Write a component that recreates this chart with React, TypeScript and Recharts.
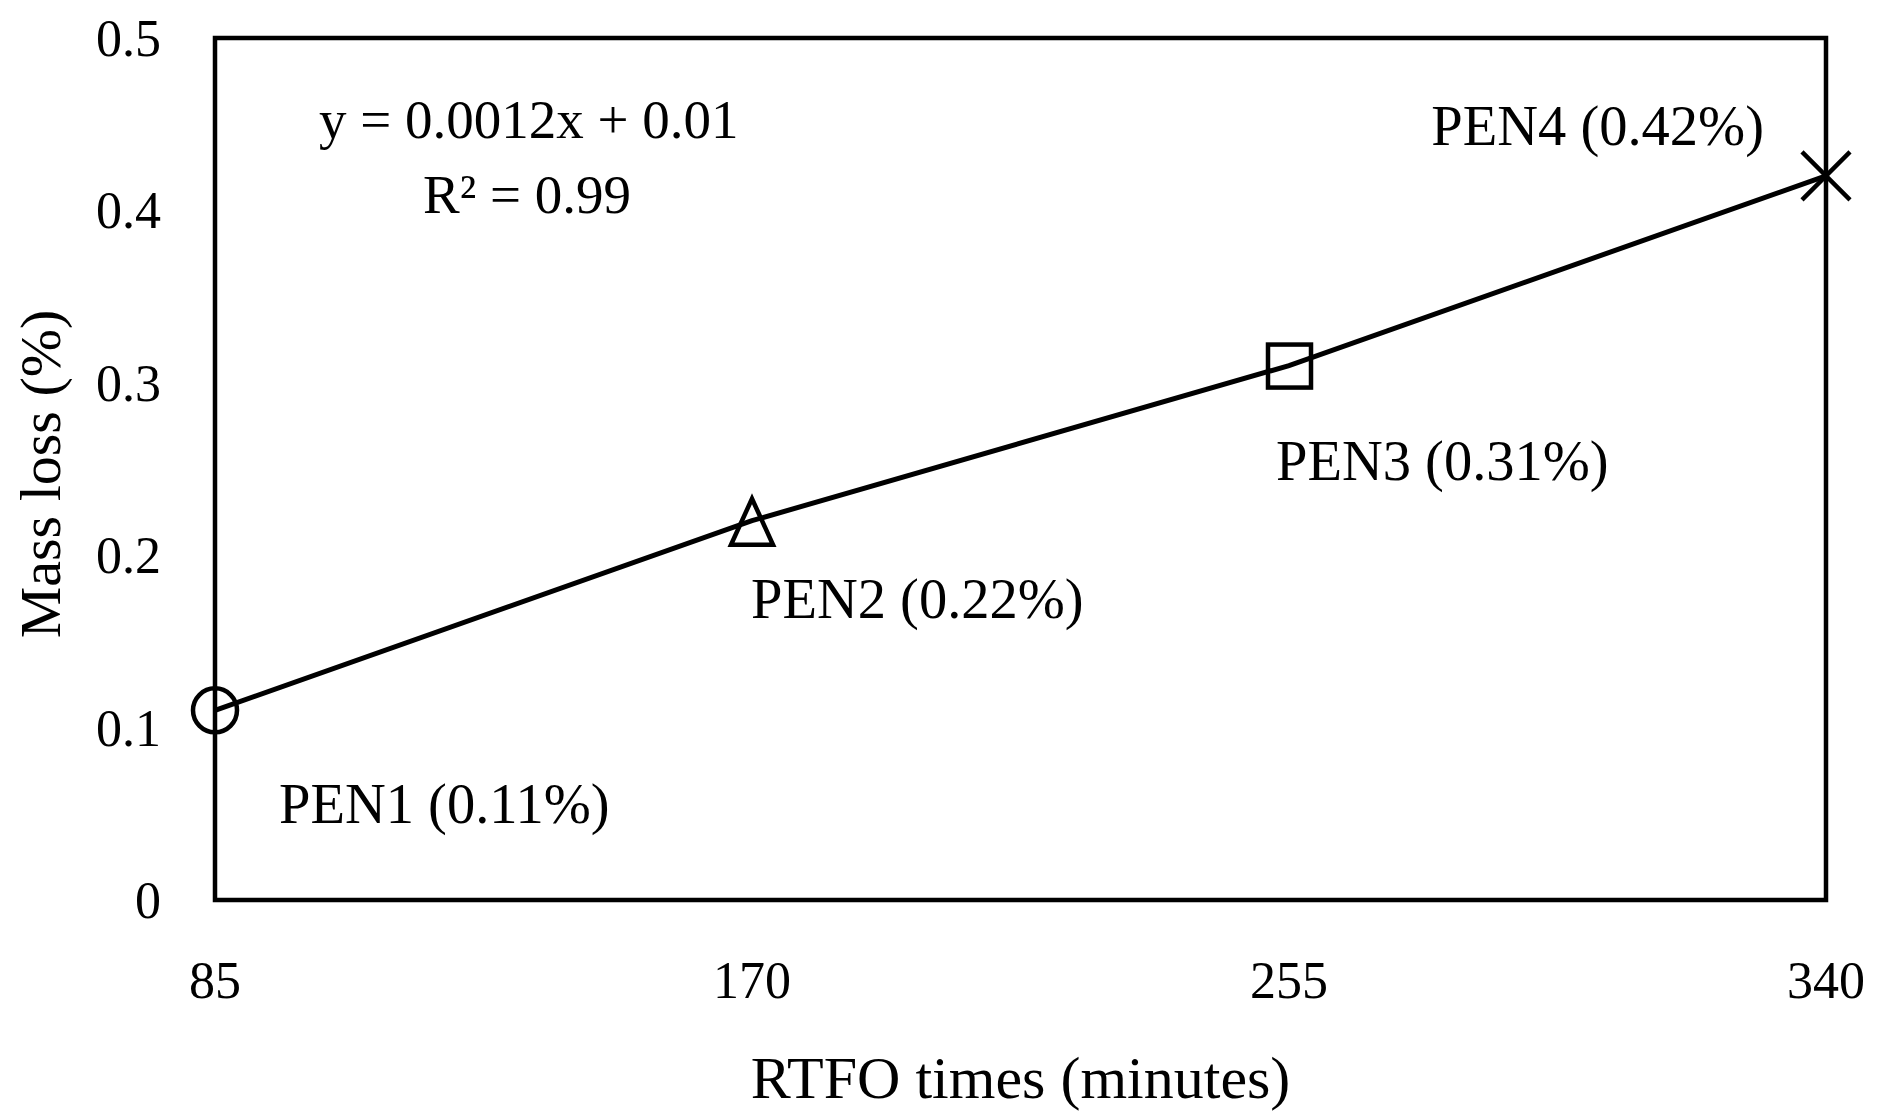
import React from "react";
import {
  ComposedChart,
  Line,
  XAxis,
  YAxis,
  ReferenceArea,
  LabelList,
  Label,
} from "recharts";

const rtfoTimes = [85, 170, 255, 340];
const massLoss = [0.11, 0.22, 0.31, 0.42];
const sampleNames = ["PEN1", "PEN2", "PEN3", "PEN4"];
const xTicks = [85, 170, 255, 340];
const yTicks = [0, 0.1, 0.2, 0.3, 0.4, 0.5];
const fitEquation = "y = 0.0012x + 0.01";
const fitR2 = "R\u00b2 = 0.99";

const data = rtfoTimes.map((t, i) => ({
  time: t,
  loss: massLoss[i],
  name: sampleNames[i],
}));

const FONT = "'Liberation Serif', 'Times New Roman', serif";
const INK = "#000";

// label offsets relative to each point: [dx, dy, anchor]
const labelOffsets: [number, number, "start" | "end"][] = [
  [64, 113, "start"],
  [-1, 97, "start"],
  [-13, 114, "start"],
  [-62, -31, "end"],
];

function Marker(props: any) {
  const { cx, cy, index } = props;
  const common = { fill: "none", stroke: INK, strokeWidth: 4.5 };
  if (cx == null || cy == null) return <g key={`m-${index}`} />;
  if (index === 0) return <circle key={`m-${index}`} cx={cx} cy={cy} r={22} {...common} />;
  if (index === 1)
    return (
      <polygon
        key={`m-${index}`}
        points={`${cx},${cy - 22} ${cx - 21},${cy + 24} ${cx + 21},${cy + 24}`}
        {...common}
      />
    );
  if (index === 2)
    return <rect key={`m-${index}`} x={cx - 21} y={cy - 21} width={43} height={43} {...common} />;
  return (
    <g key={`m-${index}`}>
      <line x1={cx - 24} y1={cy - 24} x2={cx + 24} y2={cy + 24} stroke={INK} strokeWidth={4.5} />
      <line x1={cx - 24} y1={cy + 24} x2={cx + 24} y2={cy - 24} stroke={INK} strokeWidth={4.5} />
    </g>
  );
}

function PenLabel(props: any) {
  const { x, y, index } = props;
  const d = data[index];
  const [dx, dy, anchor] = labelOffsets[index];
  return (
    <text x={x + dx} y={y + dy} textAnchor={anchor} fontFamily={FONT} fontSize={56.5} fill={INK}>
      {`${d.name} (${d.loss}%)`}
    </text>
  );
}

function XTick(props: any) {
  const { x, y, payload } = props;
  return (
    <text x={x} y={y + 98} textAnchor="middle" fontFamily={FONT} fontSize={52} fill={INK}>
      {payload.value}
    </text>
  );
}

function YTick(props: any) {
  const { x, y, payload } = props;
  return (
    <text x={x - 54} y={y + 18} textAnchor="end" fontFamily={FONT} fontSize={52} fill={INK}>
      {payload.value}
    </text>
  );
}

function EquationLabel(props: any) {
  const { viewBox } = props;
  const { x, y } = viewBox;
  return (
    <g fontFamily={FONT} fontSize={55} fill={INK}>
      <text x={x + 104} y={y + 100}>{fitEquation}</text>
      <text x={x + 208} y={y + 175}>{fitR2}</text>
    </g>
  );
}

function XTitle(props: any) {
  const { viewBox } = props;
  const cx = viewBox.x + viewBox.width / 2;
  return (
    <text x={cx} y={viewBox.y + 198} textAnchor="middle" fontFamily={FONT} fontSize={60} fill={INK}>
      RTFO times (minutes)
    </text>
  );
}

function YTitle(props: any) {
  const { viewBox } = props;
  const cy = viewBox.y + viewBox.height / 2 + 5;
  const x = 60;
  return (
    <text
      x={x}
      y={cy}
      transform={`rotate(-90 ${x} ${cy})`}
      textAnchor="middle"
      fontFamily={FONT}
      fontSize={58}
      fill={INK}
    >
      Mass loss (%)
    </text>
  );
}

export default function App() {
  return (
    <div style={{ position: "absolute", left: 0, top: 0, width: 1882, height: 1112, background: "#fff" }}>
      <ComposedChart
        width={1882}
        height={1112}
        data={data}
        margin={{ top: 38, right: 56, bottom: 0, left: 0 }}
      >
        <XAxis
          dataKey="time"
          type="number"
          domain={[85, 340]}
          ticks={xTicks}
          axisLine={false}
          tickLine={false}
          tickSize={0}
          tickMargin={0}
          height={212}
          tick={<XTick />}
          interval={0}
        >
          <Label content={<XTitle />} />
        </XAxis>
        <YAxis
          type="number"
          domain={[0, 0.5]}
          ticks={yTicks}
          axisLine={false}
          tickLine={false}
          tickSize={0}
          tickMargin={0}
          width={215}
          tick={<YTick />}
          interval={0}
        >
          <Label content={<YTitle />} />
        </YAxis>
        <ReferenceArea
          x1={85}
          x2={340}
          y1={0}
          y2={0.5}
          fill="none"
          fillOpacity={0}
          stroke={INK}
          strokeWidth={4.5}
          ifOverflow="visible"
          label={<EquationLabel />}
        />
        <Line
          dataKey="loss"
          type="linear"
          stroke={INK}
          strokeWidth={5}
          dot={Marker}
          activeDot={false}
          isAnimationActive={false}
        >
          <LabelList dataKey="name" content={<PenLabel />} />
        </Line>
      </ComposedChart>
    </div>
  );
}
